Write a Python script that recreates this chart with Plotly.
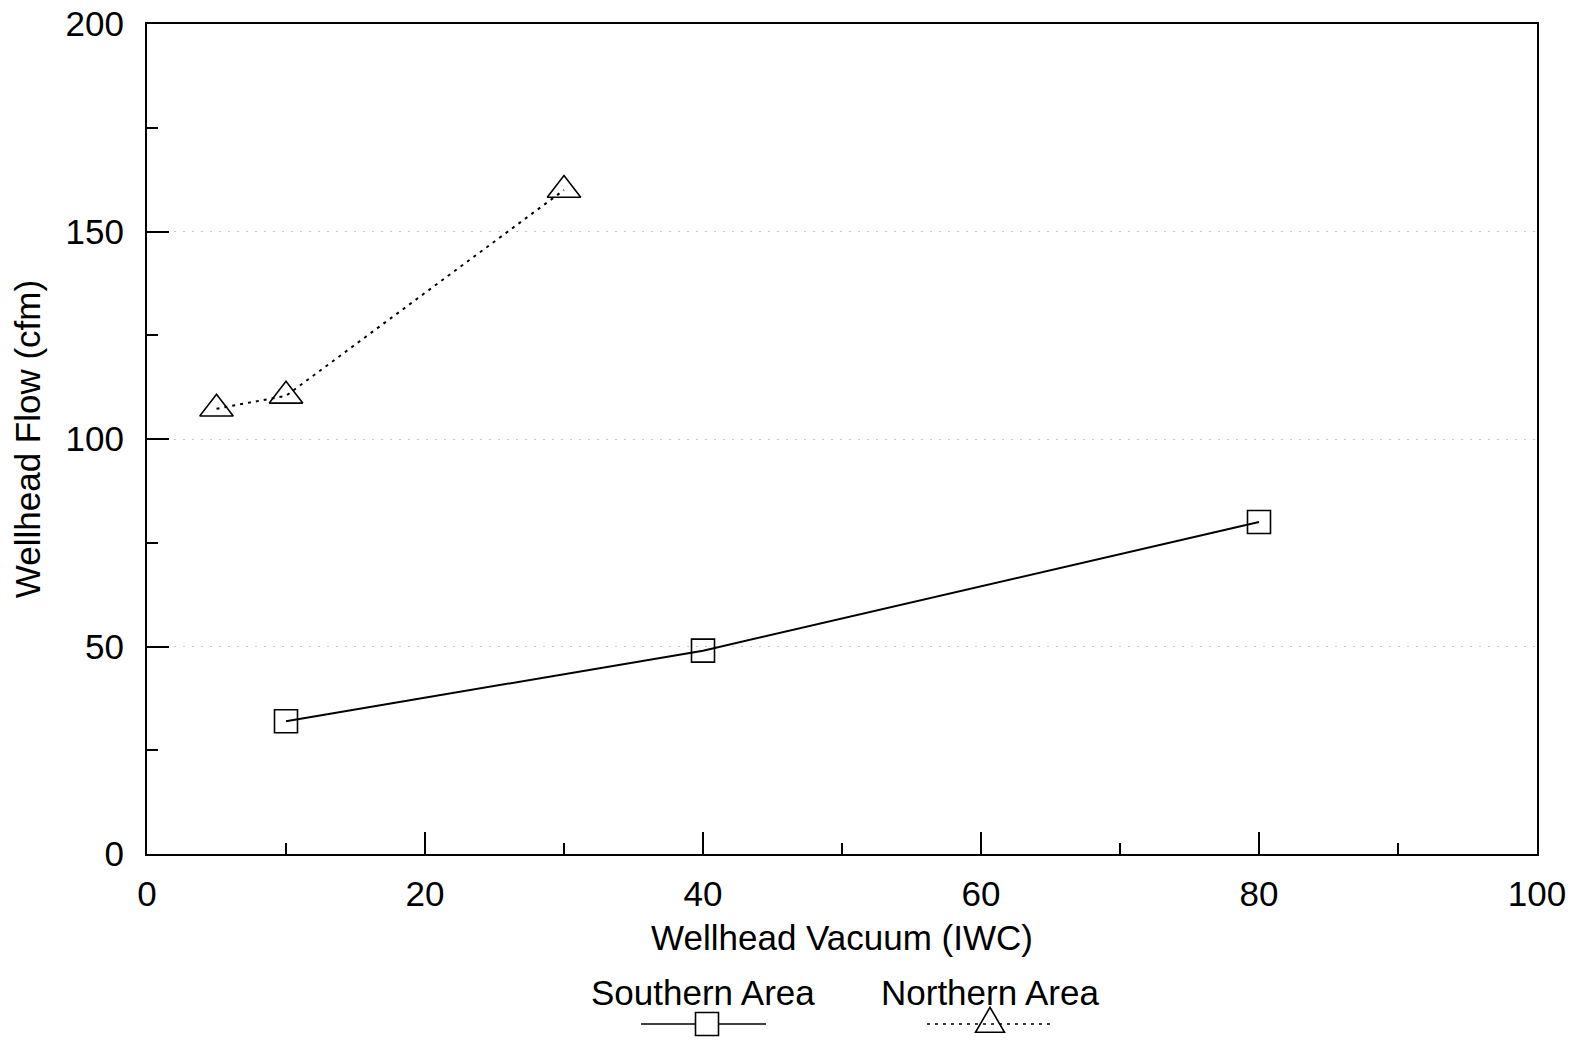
import plotly.graph_objects as go

# Data
south_x = [10, 40, 80]
south_y = [32, 49, 80]
north_x = [5, 10, 30]
north_y = [107.3, 110.4, 160]

x_title = "Wellhead Vacuum (IWC)"
y_title = "Wellhead Flow (cfm)"
series_names = ["Southern Area", "Northern Area"]

FONT = "Liberation Sans, Arial, Helvetica, sans-serif"
FS = 35

L, R, T, B = 147, 38, 24, 188
W, H = 1575, 1042
PW, PH = W - L - R, H - T - B
BOTTOM = H - B

fig = go.Figure()

fig.add_trace(go.Scatter(
    x=south_x, y=south_y, mode="lines+markers", name=series_names[0],
    line=dict(color="black", width=2),
    marker=dict(symbol="square-open", size=23, color="black", line=dict(width=1.6)),
    showlegend=False,
))
fig.add_trace(go.Scatter(
    x=north_x, y=north_y, mode="lines+markers", name=series_names[1],
    line=dict(color="black", width=2, dash="3px,5px"),
    marker=dict(symbol="triangle-up-open", size=29, color="black", line=dict(width=1.6)),
    showlegend=False,
))

# Custom legend (text above sample line + symbol), placed below the x title
def px_x(p):
    return (p - L) / PW

def px_y(p):
    return (BOTTOM - p) / PH

leg_y_text = px_y(992)
leg_y_line = px_y(1024)
tri_path = "M -14.5 -8.3 L 14.5 -8.3 L 0 16.7 Z"
sq_path = "M -11.5 -11.5 L 11.5 -11.5 L 11.5 11.5 L -11.5 11.5 Z"
leg = [
    dict(name=series_names[0], cx=px_x(703), x0=px_x(641), x1=px_x(766),
         mx=px_x(707), dash="solid", path=sq_path, fill="white"),
    dict(name=series_names[1], cx=px_x(990), x0=px_x(927), x1=px_x(1055),
         mx=px_x(990), dash="3px,5px", path=tri_path, fill="rgba(0,0,0,0)"),
]
for it in leg:
    fig.add_annotation(text=it["name"], xref="paper", yref="paper", x=it["cx"], y=leg_y_text,
                       showarrow=False, font=dict(family=FONT, size=FS, color="black"),
                       xanchor="center", yanchor="middle")
    fig.add_shape(type="line", xref="paper", yref="paper", x0=it["x0"], x1=it["x1"],
                  y0=leg_y_line, y1=leg_y_line,
                  line=dict(color="black", width=1.5, dash=it["dash"]))
    fig.add_shape(type="path", xref="paper", yref="paper",
                  xsizemode="pixel", ysizemode="pixel",
                  xanchor=it["mx"], yanchor=leg_y_line, path=it["path"],
                  fillcolor=it["fill"], line=dict(color="black", width=1.6))

axis_common = dict(
    showline=True, linecolor="black", linewidth=2, mirror=True,
    ticks="inside", ticklen=22, tickwidth=1.5, tickcolor="black",
    tickfont=dict(family=FONT, size=FS, color="black"),
    zeroline=False,
)

fig.update_xaxes(
    range=[0, 100], tickvals=[0, 20, 40, 60, 80, 100], showgrid=False,
    minor=dict(dtick=10, tick0=0, ticks="inside", ticklen=11, tickwidth=1.5, tickcolor="black"),
    title=dict(text=x_title, font=dict(family=FONT, size=FS, color="black"), standoff=13),
    ticklabelstandoff=8,
    **axis_common,
)
fig.update_yaxes(
    range=[0, 200], tickvals=[0, 50, 100, 150, 200],
    showgrid=True, gridcolor="#c8c8c8", gridwidth=1, griddash="2px,7px",
    minor=dict(dtick=25, tick0=0, ticks="inside", ticklen=11, tickwidth=1.5, tickcolor="black"),
    title=dict(text=y_title, font=dict(family=FONT, size=FS, color="black"), standoff=14),
    ticklabelstandoff=14,
    **axis_common,
)

fig.update_layout(
    width=W, height=H,
    margin=dict(l=L, r=R, t=T, b=B, autoexpand=False),
    paper_bgcolor="white", plot_bgcolor="white",
    font=dict(family=FONT, size=FS, color="black"),
    showlegend=False,
)

fig.write_html("out.html")
